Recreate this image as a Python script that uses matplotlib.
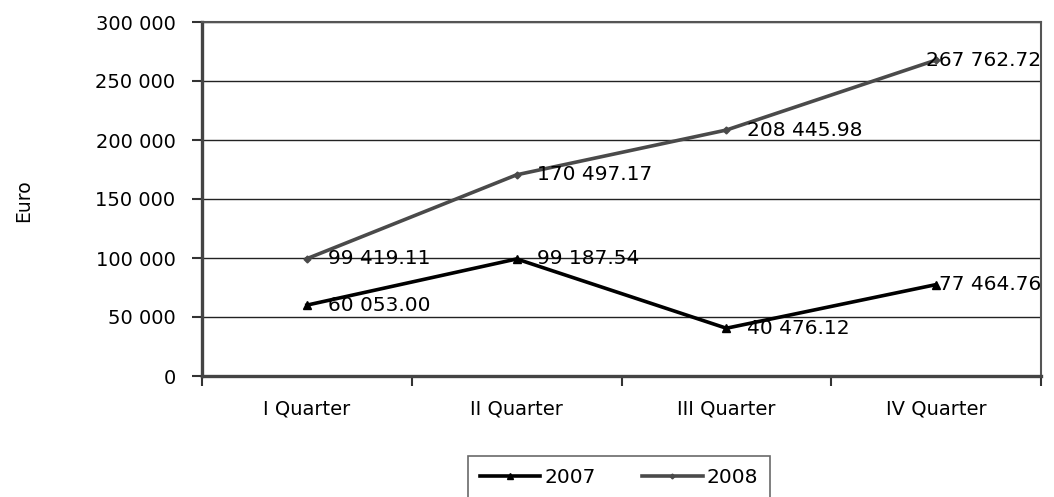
import matplotlib
matplotlib.use("Agg")
import matplotlib.pyplot as plt
from matplotlib.ticker import FuncFormatter, FixedLocator

categories = ["I Quarter", "II Quarter", "III Quarter", "IV Quarter"]
values_2007 = [60053.00, 99187.54, 40476.12, 77464.76]
values_2008 = [99419.11, 170497.17, 208445.98, 267762.72]
y_ticks = [0, 50000, 100000, 150000, 200000, 250000, 300000]

# label x offsets (points) for each category, styling only
label_dx = [15, 15, 15, 2]
label_dx_2008 = [15, 15, 15, -7]

plt.rcParams['font.family'] = ['DejaVu Sans']

fig = plt.figure(figsize=(10.54, 4.97), dpi=100)
ax = fig.add_axes([202/1054, 1-376/497, (1041-202)/1054, (376-22)/497])

x = list(range(len(categories)))
ax.plot(x, values_2007, color='black', lw=2.6, marker='^', ms=6, label='2007', zorder=3, clip_on=False)
ax.plot(x, values_2008, color='#4a4a4a', lw=2.6, marker='D', ms=3.5, label='2008', zorder=3, clip_on=False)

for i, v in enumerate(values_2007):
    ax.annotate(f"{v:,.2f}".replace(",", " "), (x[i], v), xytext=(label_dx[i], 0),
                textcoords='offset points', ha='left', va='center', fontsize=14.5, color='black',
                annotation_clip=False, zorder=4)
for i, v in enumerate(values_2008):
    ax.annotate(f"{v:,.2f}".replace(",", " "), (x[i], v), xytext=(label_dx_2008[i], 0),
                textcoords='offset points', ha='left', va='center', fontsize=14.5, color='black',
                annotation_clip=False, zorder=4)

ax.set_xlim(-0.5, len(categories) - 0.5)
ax.set_ylim(0, 300000)
ax.set_yticks(y_ticks)
ax.yaxis.set_major_formatter(FuncFormatter(lambda v, p: f"{int(v):,}".replace(",", " ")))
ax.yaxis.grid(True, color='#222222', lw=1.0)
ax.set_axisbelow(True)

ax.set_xticks(x)
ax.set_xticklabels(categories)
ax.xaxis.set_minor_locator(FixedLocator([i - 0.5 for i in range(len(categories) + 1)]))
ax.tick_params(axis='x', which='major', length=0, pad=17, labelsize=14)
ax.tick_params(axis='x', which='minor', length=7, width=1.5, color='#333333', direction='out')
ax.tick_params(axis='y', which='major', length=7, width=1.5, color='#333333', pad=12, labelsize=14)

for s in ['left', 'bottom']:
    ax.spines[s].set_linewidth(2.4)
    ax.spines[s].set_color('#444444')
for s in ['top', 'right']:
    ax.spines[s].set_linewidth(1.5)
    ax.spines[s].set_color('#555555')

fig.text(24/1054, 1-201/497, "Euro", rotation=90, ha='center', va='center', fontsize=13.5)

leg = fig.legend(loc='upper center', bbox_to_anchor=(619/1054, 1-456/497), ncol=2,
                 fontsize=14.5, frameon=True, fancybox=False, edgecolor='#444444',
                 handlelength=3.0, handletextpad=0.2, columnspacing=2.3, borderpad=0.6,
                 borderaxespad=0, markerscale=0.7)
leg.get_frame().set_linewidth(1.2)

fig.savefig("out.png", dpi=100)
